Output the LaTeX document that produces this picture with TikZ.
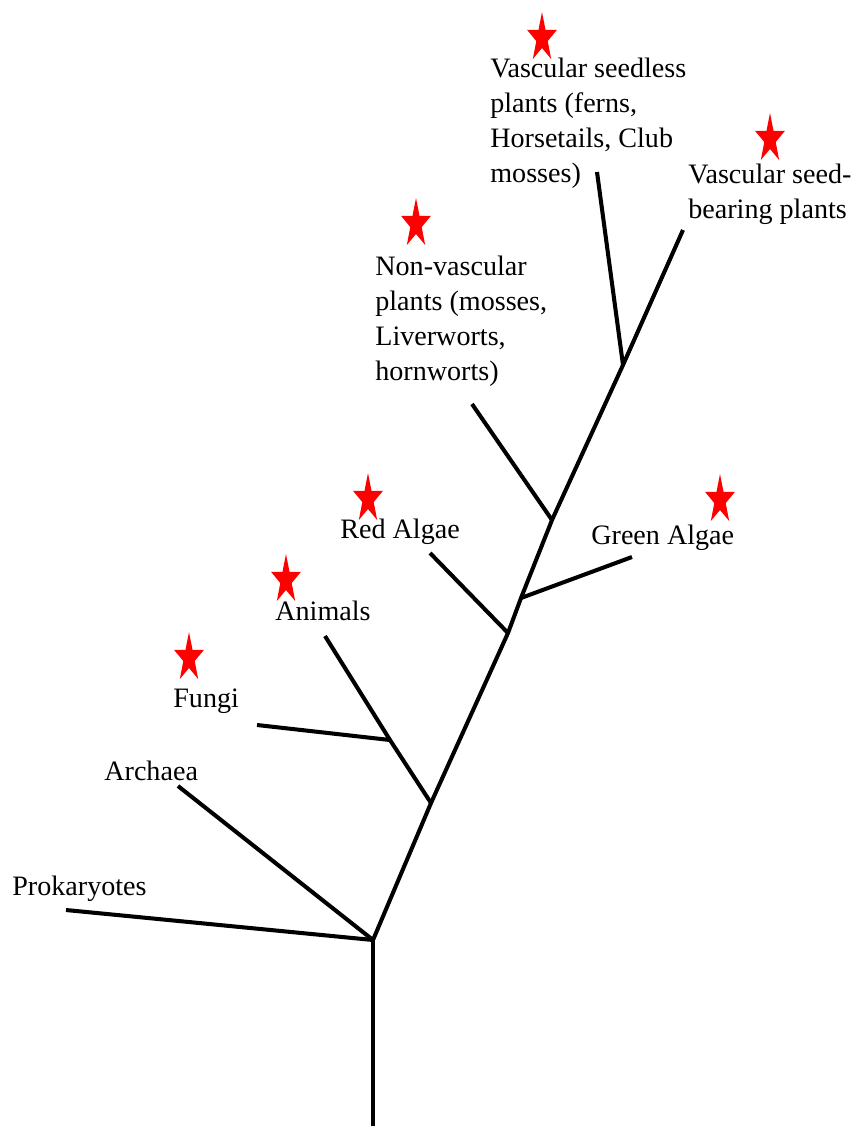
\documentclass[tikz,border=0pt]{standalone}
\usepackage{fontspec}
\setmainfont{Liberation Serif}
\usetikzlibrary{positioning}

\begin{document}
\begin{tikzpicture}[
    x=0.02cm, y=-0.02cm,
    font=\fontsize{16pt}{19.9pt}\selectfont,
    branch/.style={line width=2.3pt, draw=black, line cap=butt},
    taxon/.style={
        inner sep=0pt,
        align=left,
        anchor=north west
    },
    redstar/.pic={
        \fill[red, xscale=0.6]
            (-90:26) -- (-54:10) -- (-18:26) -- (18:10) -- (54:26)
            -- (90:10) -- (126:26) -- (162:10) -- (198:26) -- (234:10) -- cycle;
    }
]
\useasboundingbox (0,0) rectangle (858,1126);

% =========================================================
% Junctions of the tree
% =========================================================
\coordinate (root) at (373,1126);
\coordinate (base) at (373,940);
\coordinate (jAnimals) at (431,803);
\coordinate (jFungi) at (390,740);
\coordinate (jRed) at (508,633);
\coordinate (jGreen) at (521,598);
\coordinate (jNonvasc) at (552,520);
\coordinate (jSeedless) at (623,365);
\coordinate (tipSeed) at (683,230);

% Branch tips
\coordinate (tipProk) at (66,910);
\coordinate (tipArch) at (178,786);
\coordinate (tipAnim) at (325,636);
\coordinate (tipFungi) at (257,725);
\coordinate (tipRed) at (430,553);
\coordinate (tipGreen) at (632,557);
\coordinate (tipNonvasc) at (472,404);
\coordinate (tipSeedless) at (597,172);

% =========================================================
% Branches
% =========================================================
\draw[branch] (root) -- (base);
\draw[branch] (base) -- (jAnimals) -- (jRed) -- (jGreen) -- (jNonvasc) -- (jSeedless) -- (tipSeed);
\draw[branch] (base) -- (tipProk);
\draw[branch] (base) -- (tipArch);
\draw[branch] (jAnimals) -- (jFungi) -- (tipAnim);
\draw[branch] (jFungi) -- (tipFungi);
\draw[branch] (jRed) -- (tipRed);
\draw[branch] (jGreen) -- (tipGreen);
\draw[branch] (jNonvasc) -- (tipNonvasc);
\draw[branch] (jSeedless) -- (tipSeedless);

% =========================================================
% Labels
% =========================================================
\node[taxon] (seedless) at (490,58) {Vascular seedless\\plants (ferns,\\Horsetails, Club\\mosses)};
\node[taxon] (seedbearing) at (688,164) {Vascular seed-\\bearing plants};
\node[taxon] (nonvasc) at (375,256) {Non-vascular\\plants (mosses,\\Liverworts,\\hornworts)};
\node[taxon] (redalgae) at (340,519) {Red Algae};
\node[taxon] (greenalgae) at (591,525) {Green Algae};
\node[taxon] (animals) at (275,601) {Animals};
\node[taxon] (fungi) at (173,689) {Fungi};
\node[taxon] (archaea) at (104,761) {Archaea};
\node[taxon] (prok) at (12,876) {Prokaryotes};

% Stars
\pic at (542,38) {redstar};
\pic at (770,139) {redstar};
\pic at (416,224) {redstar};
\pic at (368,499) {redstar};
\pic at (286,580) {redstar};
\pic at (720,500) {redstar};
\pic at (189,658) {redstar};

\end{tikzpicture}
\end{document}
